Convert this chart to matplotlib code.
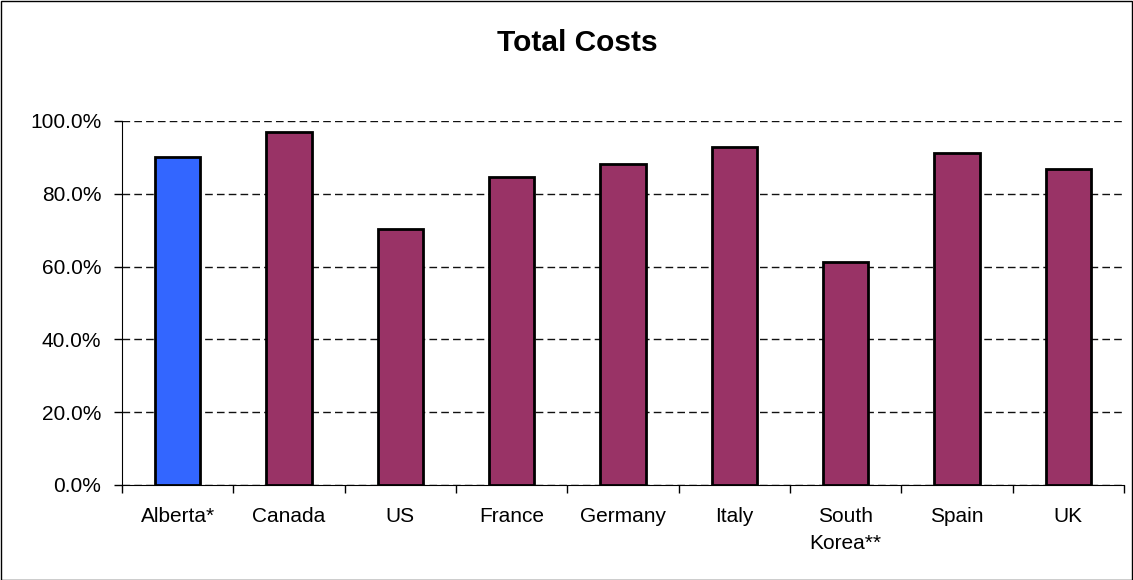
import matplotlib.pyplot as plt
from matplotlib.patches import Rectangle
from matplotlib.ticker import FixedLocator, PercentFormatter

countries = ['Alberta*', 'Canada', 'US', 'France', 'Germany', 'Italy',
             'South\nKorea**', 'Spain', 'UK']
costs = [90.2, 96.9, 70.3, 84.6, 88.2, 92.9, 61.3, 91.1, 86.8]
colors = ['#3366FF'] + ['#993366'] * 8

plt.rcParams['font.family'] = ['Liberation Sans', 'DejaVu Sans']

fig = plt.figure(figsize=(11.33, 5.8), dpi=100)
ax = fig.add_axes([122 / 1133, 95 / 580, 1002 / 1133, 364 / 580])

x = range(len(countries))
ax.bar(x, costs, width=0.41, color=colors, edgecolor='black', linewidth=2, zorder=3)

ax.set_xlim(-0.5, len(countries) - 0.5)
ax.set_ylim(0, 100)
ax.yaxis.set_major_locator(FixedLocator([0, 20, 40, 60, 80, 100]))
ax.yaxis.set_major_formatter(PercentFormatter(decimals=1))
ax.set_xticks(list(x))
ax.set_xticklabels(countries, fontsize=15, linespacing=1.55)
ax.tick_params(axis='x', length=0, pad=16)
ax.set_xticks([i + 0.5 for i in range(-1, len(countries))], minor=True)
ax.tick_params(axis='x', which='minor', length=6, width=1, direction='out')
ax.tick_params(axis='y', length=6, width=1, direction='out', labelsize=15, pad=9)

ax.yaxis.grid(True, color='#111111', linestyle=(0, (5.5, 3)), linewidth=1, zorder=0)
ax.spines['top'].set_visible(False)
ax.spines['right'].set_visible(False)

fig.text(577 / 1133, 1 - 43 / 580, 'Total Costs', ha='center', va='center',
         fontsize=21.5, fontweight='bold')

# thin frame around the whole figure
fig.patches.append(Rectangle((0.5 / 1133, 0.5 / 580), 1 - 1.5 / 1133, 1 - 1.5 / 580,
                             transform=fig.transFigure, fill=False,
                             edgecolor='black', linewidth=1))

fig.savefig('out.png', dpi=100)
